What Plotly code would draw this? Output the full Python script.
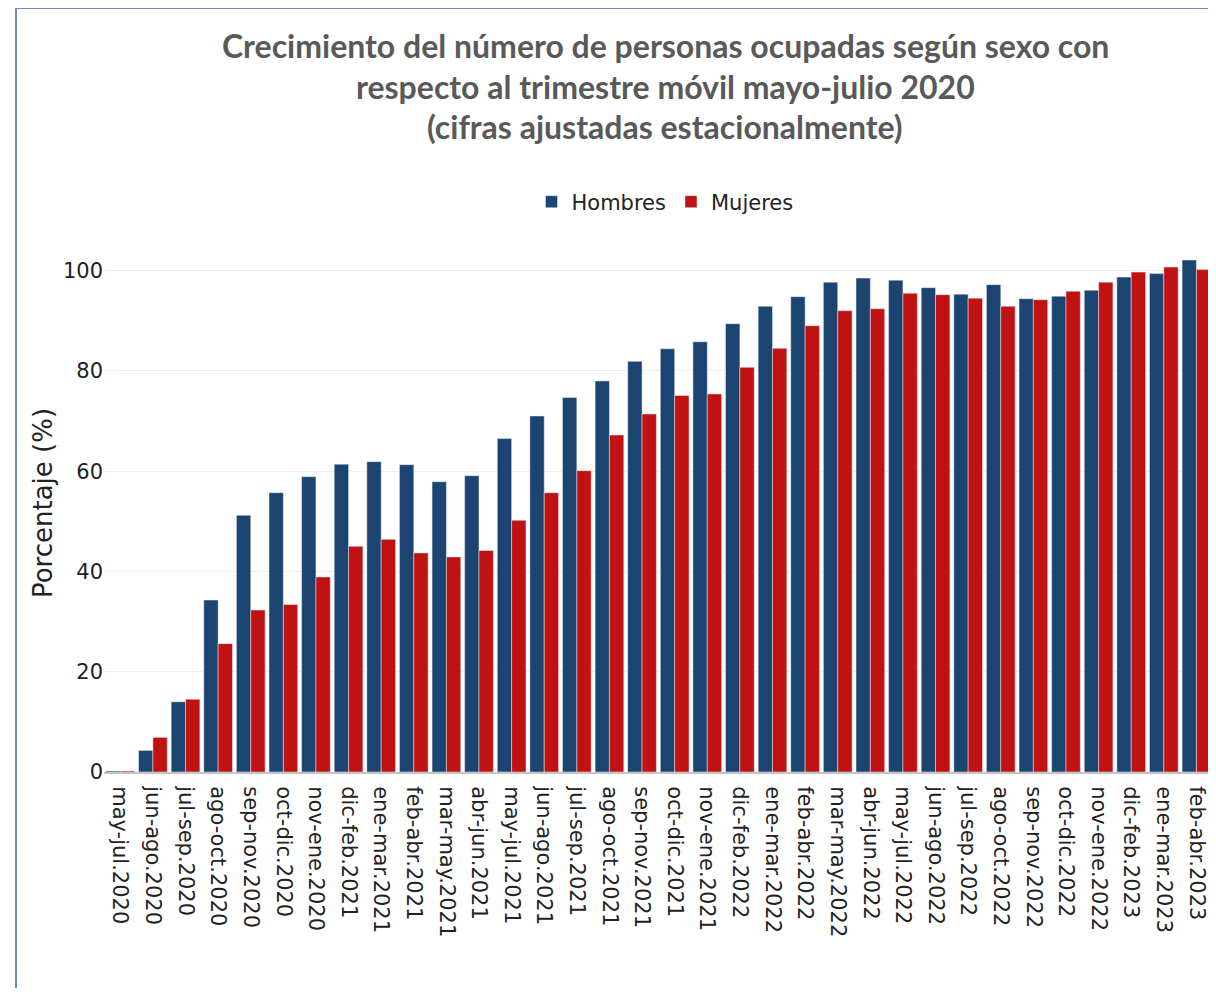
import plotly.graph_objects as go

categorias = [
    "may-jul.2020", "jun-ago.2020", "jul-sep.2020", "ago-oct.2020", "sep-nov.2020",
    "oct-dic.2020", "nov-ene.2020", "dic-feb.2021", "ene-mar.2021", "feb-abr.2021",
    "mar-may.2021", "abr-jun.2021", "may-jul.2021", "jun-ago.2021", "jul-sep.2021",
    "ago-oct.2021", "sep-nov.2021", "oct-dic.2021", "nov-ene.2021", "dic-feb.2022",
    "ene-mar.2022", "feb-abr.2022", "mar-may.2022", "abr-jun.2022", "may-jul.2022",
    "jun-ago.2022", "jul-sep.2022", "ago-oct.2022", "sep-nov.2022", "oct-dic.2022",
    "nov-ene.2022", "dic-feb.2023", "ene-mar.2023", "feb-abr.2023",
]

hombres = [
    0.2, 4.3, 14.0, 34.3, 51.2, 55.7, 58.9, 61.4, 61.9, 61.3,
    57.9, 59.1, 66.5, 71.0, 74.7, 78.0, 81.9, 84.4, 85.8, 89.4,
    92.9, 94.8, 97.7, 98.5, 98.1, 96.6, 95.3, 97.2, 94.4, 94.9,
    96.1, 98.7, 99.4, 102.1,
]

mujeres = [
    0.2, 6.9, 14.5, 25.6, 32.3, 33.4, 38.9, 45.0, 46.4, 43.7,
    42.9, 44.2, 50.2, 55.7, 60.1, 67.2, 71.4, 75.1, 75.4, 80.7,
    84.5, 89.0, 92.0, 92.4, 95.5, 95.2, 94.5, 92.9, 94.2, 95.9,
    97.7, 99.7, 100.7, 100.2,
]

titulo = [
    "Crecimiento del número de personas ocupadas según sexo con",
    "respecto al trimestre móvil mayo-julio 2020",
    "(cifras ajustadas estacionalmente)",
]

AZUL = "#1c4470"
ROJO = "#c01212"

fig = go.Figure()
fig.add_trace(go.Bar(x=categorias, y=hombres, name="Hombres",
                     marker=dict(color=AZUL, line=dict(color="#E5ECF6", width=0.5))))
fig.add_trace(go.Bar(x=categorias, y=mujeres, name="Mujeres",
                     marker=dict(color=ROJO, line=dict(color="#E5ECF6", width=0.5))))

# page offset of the figure inside the browser (body margin)
OFF = 8
W, H = 1216 - OFF, 980
ml, mr, mt = 104 - OFF, 0, 234 - OFF
plot_bottom = 772 - OFF
mb = H - plot_bottom
pw = W - ml - mr
ph = H - mt - mb


def px_x(p):
    return (p - OFF - ml) / pw


def px_y(p):
    return (H - mb - (p - OFF)) / ph


line_y = [45, 86, 127]
for txt, yy in zip(titulo, line_y):
    fig.add_annotation(text="<b>%s</b>" % txt, xref="paper", yref="paper",
                       x=px_x(665), y=px_y(yy), xanchor="center", yanchor="middle",
                       showarrow=False,
                       font=dict(family="Lato", size=32, color="#595959"))

fig.add_shape(type="rect", xref="paper", yref="paper",
              x0=px_x(16), x1=px_x(1300), y0=px_y(1100), y1=px_y(8),
              line=dict(color="#6f8ac0", width=2), fillcolor="rgba(0,0,0,0)",
              layer="above")

fig.update_layout(
    width=W, height=H,
    margin=dict(l=ml, r=mr, t=mt, b=mb, autoexpand=False),
    paper_bgcolor="white", plot_bgcolor="white",
    barmode="group", bargap=0.12, bargroupgap=0,
    font=dict(family="DejaVu Sans", size=21, color="#222222"),
    showlegend=True,
    legend=dict(orientation="h", x=px_x(665), xanchor="center",
                y=px_y(202), yanchor="middle", font=dict(size=21, color="#222222"),
                bgcolor="rgba(0,0,0,0)"),
    xaxis=dict(type="category", tickangle=90, range=[-0.5, 33.6],
               showgrid=False, showline=True, linecolor="#c4c4c4", linewidth=2,
               ticks="", ticklabelstandoff=8,
               tickfont=dict(size=21, color="#222222")),
    yaxis=dict(range=[0, 107.3], tickvals=[0, 20, 40, 60, 80, 100],
               showgrid=True, gridcolor="#efefef", gridwidth=1,
               zeroline=False, showline=False, ticks="",
               tickfont=dict(size=21, color="#222222"),
               title=dict(text="Porcentaje (%)", font=dict(size=26, color="#222222"),
                          standoff=2)),
)

fig.write_html("out.html")
